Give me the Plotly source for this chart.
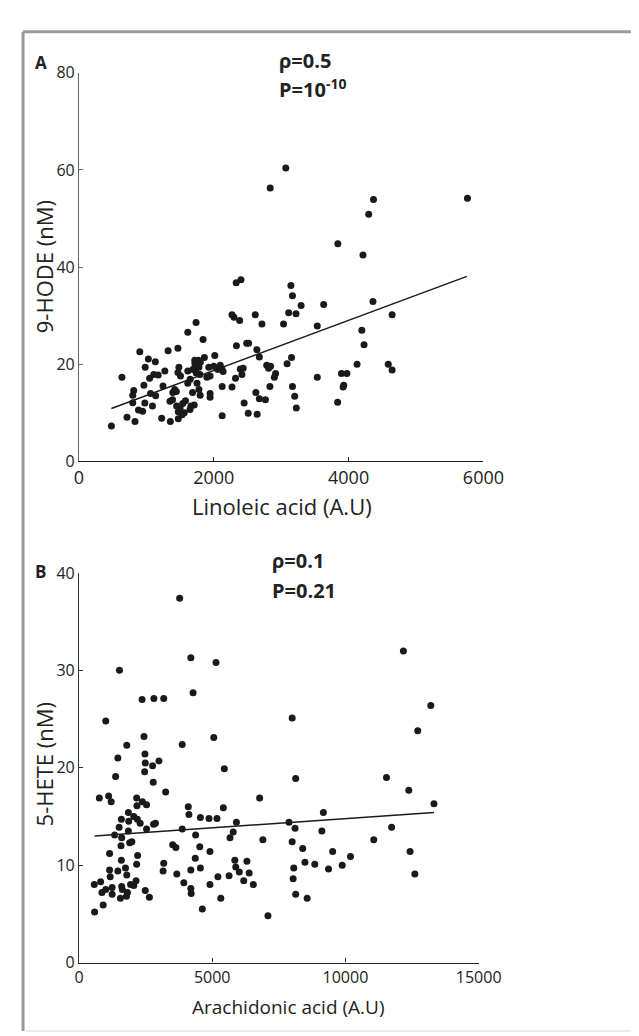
import plotly.graph_objects as go

# Panel A: Linoleic acid (A.U) vs 9-HODE (nM)
la_x = [481, 637, 713, 831, 798, 812, 798, 902, 883, 944, 963, 982, 977, 1029, 1048, 1062, 1090, 1109,
        1133, 1138, 1175, 1227, 1246, 1274, 1322, 1355, 1388, 1392, 1444, 1468, 1468, 1482, 1449, 1473,
        1473, 1506, 1539, 1562, 1614, 1614, 1614, 1647, 1661, 1685, 1709, 1737, 1718, 1718, 1751, 1770,
        1779, 1794, 1798, 1841, 1860, 1897, 1926, 1945, 1945, 1945, 2015, 2049, 2096, 2119, 2138, 2124,
        2124, 2270, 2270, 2299, 2322, 2332, 2336, 2403, 2384, 2393, 2417, 2436, 2450, 2488, 2516, 2511,
        2615, 2624, 2639, 2643, 2676, 2676, 2714, 2766, 2785, 2813, 2842, 2832, 2898, 2917, 3035, 3087,
        3111, 3144, 3167, 3153, 3167, 3200, 3219, 3224, 3295, 3535, 3535, 3630, 3837, 3894, 3918, 3927,
        3974, 4125, 4196, 4229, 4361, 4588, 4645, 4645, 2837, 3068, 4369, 4298, 5763, 3840, 4213,
        1720, 1760, 1800, 1690, 1740, 1500, 1530, 1580, 1650, 1780, 2000, 2060, 1350, 1420]
hode_y = [7.3, 17.3, 9.1, 8.2, 12.1, 14.6, 13.6, 22.6, 10.6, 10.3, 15.7, 19.4, 12.0, 21.1, 17.1, 14.0, 11.4, 17.9,
          20.5, 13.5, 17.8, 8.9, 15.5, 18.6, 22.8, 8.2, 12.7, 14.2, 14.4, 23.3, 18.3, 19.4, 11.4, 10.2,
          8.8, 17.6, 11.9, 10.0, 26.6, 18.6, 16.1, 10.7, 11.4, 14.2, 11.6, 28.6, 20.8, 19.4, 16.1, 20.8,
          19.4, 17.9, 13.6, 25.1, 21.4, 17.3, 19.4, 17.6, 14.0, 13.2, 21.8, 19.2, 19.8, 19.0, 18.5, 15.4,
          9.4, 15.3, 30.2, 29.7, 17.1, 36.8, 23.8, 37.4, 29.0, 19.0, 17.9, 19.2, 12.0, 24.3, 24.3, 9.9,
          30.2, 14.2, 23.0, 9.7, 12.9, 21.5, 28.3, 12.7, 19.8, 19.2, 19.6, 15.4, 17.3, 18.1, 28.3, 20.1,
          30.6, 36.2, 34.1, 21.4, 15.4, 13.4, 30.4, 11.0, 32.1, 27.9, 17.3, 32.3, 12.2, 18.1, 15.3, 15.7,
          18.1, 20.0, 27.0, 24.0, 32.9, 20.0, 18.8, 30.2, 56.3, 60.4, 53.9, 50.9, 54.2, 44.8, 42.5,
          20.2, 19.8, 20.4, 18.9, 18.2, 11.0, 9.6, 12.5, 16.9, 14.8, 19.6, 18.9, 12.4, 14.8]
la_fit_x = [481, 5754]
la_fit_y = [10.9, 38.1]

# Panel B: Arachidonic acid (A.U) vs 5-HETE (nM)
aa_x = [1005, 1519, 2368, 2811, 3181, 3779, 4198, 5143, 4282, 1459, 1794, 2440, 2476, 2488, 2763, 3002,
        3875, 5059, 5454, 8001, 12175, 13204, 12713, 2464, 1375, 8133, 11541, 2787, 3253, 765, 1112,
        1208, 2165, 2177, 2380, 2536, 6781, 12378, 13323, 4102, 4126, 4557, 4880, 5179, 5418, 1854,
        2057, 2189, 2296, 1591, 1866, 1507, 1339, 1603, 1854, 1579, 1902, 1985, 2536, 2799, 2870, 3875,
        4377, 5908, 5789, 5669, 7882, 8109, 9114, 9173, 11733, 11063, 6901, 8001, 8396, 9520, 12426,
        10190, 9879, 8850, 8480, 9365, 8061, 8037, 8133, 8563, 12606, 7092, 3516, 3636, 4533, 4916,
        4365, 3181, 3157, 3672, 4198, 4557, 3935, 4198, 4210, 4629, 4916, 5215, 5323, 5633, 5849, 5884,
        6016, 6303, 6387, 6183, 6542, 1148, 2201, 2165, 1591, 1148, 1172, 1459, 1746, 1794, 813, 574,
        861, 1005, 1244, 1244, 1603, 1627, 1555, 1782, 1818, 1937, 2057, 2141, 2488, 2643, 909, 586]
hete_y = [24.8, 30.0, 27.0, 27.1, 27.1, 37.4, 31.3, 30.8, 27.7, 21.0, 22.3, 23.2, 21.4, 20.5, 20.2, 20.7,
          22.4, 23.1, 19.9, 25.1, 32.0, 26.4, 23.8, 19.6, 19.1, 18.9, 19.0, 18.5, 17.5, 16.9, 17.1,
          16.5, 16.9, 16.1, 16.5, 16.2, 16.9, 17.7, 16.3, 16.0, 15.2, 14.9, 14.8, 14.8, 15.9, 15.4,
          15.0, 14.7, 14.3, 14.7, 14.5, 13.9, 13.1, 12.8, 13.5, 12.0, 12.3, 12.4, 13.7, 14.2, 14.3, 13.7,
          13.1, 14.4, 13.4, 12.8, 14.4, 13.8, 13.5, 15.4, 13.9, 12.6, 12.6, 12.4, 11.7, 11.4, 11.4,
          10.9, 10.0, 10.1, 10.3, 9.6, 9.7, 8.6, 7.0, 6.6, 9.1, 4.8, 12.1, 11.8, 11.9, 11.4,
          10.7, 10.2, 9.4, 9.1, 9.5, 9.7, 8.2, 7.6, 7.1, 5.5, 8.0, 8.8, 6.6, 8.9, 10.5, 9.8,
          9.3, 10.4, 9.2, 8.4, 8.0, 11.2, 11.0, 10.1, 10.5, 9.5, 8.8, 9.4, 9.7, 9.0, 8.3, 8.0,
          7.2, 7.5, 7.7, 7.0, 7.8, 7.5, 6.6, 6.8, 7.2, 8.0, 7.9, 8.4, 7.4, 6.7, 5.9, 5.2]
aa_fit_x = [586, 13323]
aa_fit_y = [13.0, 15.4]

A_xticks = [0, 2000, 4000, 6000]
A_xlabels = ["0", "2000", "4000", "6000"]
A_yticks = [0, 20, 40, 60, 80]
B_xticks = [0, 5000, 10000, 15000]
B_xlabels = ["0", "5000", "10000", "15000"]
B_yticks = [0, 10, 20, 30, 40]

W, H = 639, 1036
FONT = "Open Sans"
TXT = "#222"

fig = go.Figure()
fig.add_trace(go.Scatter(x=la_x, y=hode_y, mode="markers", marker=dict(size=7, color="#1a1a1a"),
                         xaxis="x", yaxis="y", showlegend=False))
fig.add_trace(go.Scatter(x=la_fit_x, y=la_fit_y, mode="lines", line=dict(color="#1a1a1a", width=1.5),
                         xaxis="x", yaxis="y", showlegend=False))
fig.add_trace(go.Scatter(x=aa_x, y=hete_y, mode="markers", marker=dict(size=7, color="#1a1a1a"),
                         xaxis="x2", yaxis="y2", showlegend=False))
fig.add_trace(go.Scatter(x=aa_fit_x, y=aa_fit_y, mode="lines", line=dict(color="#1a1a1a", width=1.5),
                         xaxis="x2", yaxis="y2", showlegend=False))

def ax(fs, lc="#222", **kw):
    d = dict(showgrid=False, zeroline=False, showline=True, linecolor=lc, linewidth=1.2,
             ticks="inside", ticklen=4, tickcolor=lc, tickfont=dict(family=FONT, size=fs, color=TXT))
    d.update(kw)
    return d

fig.update_layout(
    width=W, height=H, margin=dict(l=0, r=0, t=0, b=0),
    paper_bgcolor="white", plot_bgcolor="white",
    xaxis=ax(18, domain=[69/W, 492/W], range=[0, 6000], tickvals=A_xticks, ticktext=A_xlabels, anchor="y"),
    yaxis=ax(16, "#666", domain=[1-452/H, 1-55/H], range=[0, 80], tickvals=A_yticks, anchor="x"),
    xaxis2=ax(16, domain=[69/W, 487/W], range=[0, 15000], tickvals=B_xticks, ticktext=B_xlabels, anchor="y2"),
    yaxis2=ax(16, "#333", domain=[1-964/H, 1-566/H], range=[0, 40], tickvals=B_yticks, anchor="x2"),
)

def ann(text, px, py, anchor="left", size=19, angle=0):
    fig.add_annotation(text=text, x=px/W, y=1-py/H, xref="paper", yref="paper", showarrow=False,
                       xanchor=anchor, yanchor="middle", textangle=angle,
                       font=dict(family=FONT, size=size, color=TXT))

# axis titles
ann("Linoleic acid (A.U)", 281, 498, "center", 22)
ann("9-HODE (nM)", 32, 253, "center", 22, -90)
ann("Arachidonic acid (A.U)", 288, 1009, "center", 19)
ann("5-HETE (nM)", 32, 762, "center", 22, -90)

# panel letters and statistics
ann("<b>A</b>", 29, 44, "center", 17)
ann("<b>ρ=0.5</b>", 276, 42, size=20)
ann("<b>P=10<sup>-10</sup></b>", 276, 71, size=20)
ann("<b>B</b>", 29, 564, "center", 17)
ann("<b>ρ=0.1</b>", 269, 553, size=20)
ann("<b>P=0.21</b>", 269, 584, size=20)

# frame
fig.add_shape(type="line", xref="paper", yref="paper", x0=10.5/W, x1=1.02, y0=1-13/H, y1=1-13/H,
              line=dict(color="#9a9a9a", width=3))
fig.add_shape(type="line", xref="paper", yref="paper", x0=10.5/W, x1=10.5/W, y0=1-13/H, y1=1-1034/H,
              line=dict(color="#9a9a9a", width=3))
fig.add_shape(type="line", xref="paper", yref="paper", x0=12/W, x1=1.02, y0=1-1034/H, y1=1-1034/H,
              line=dict(color="#e4e4e4", width=1.5))

fig.write_html("out.html")
